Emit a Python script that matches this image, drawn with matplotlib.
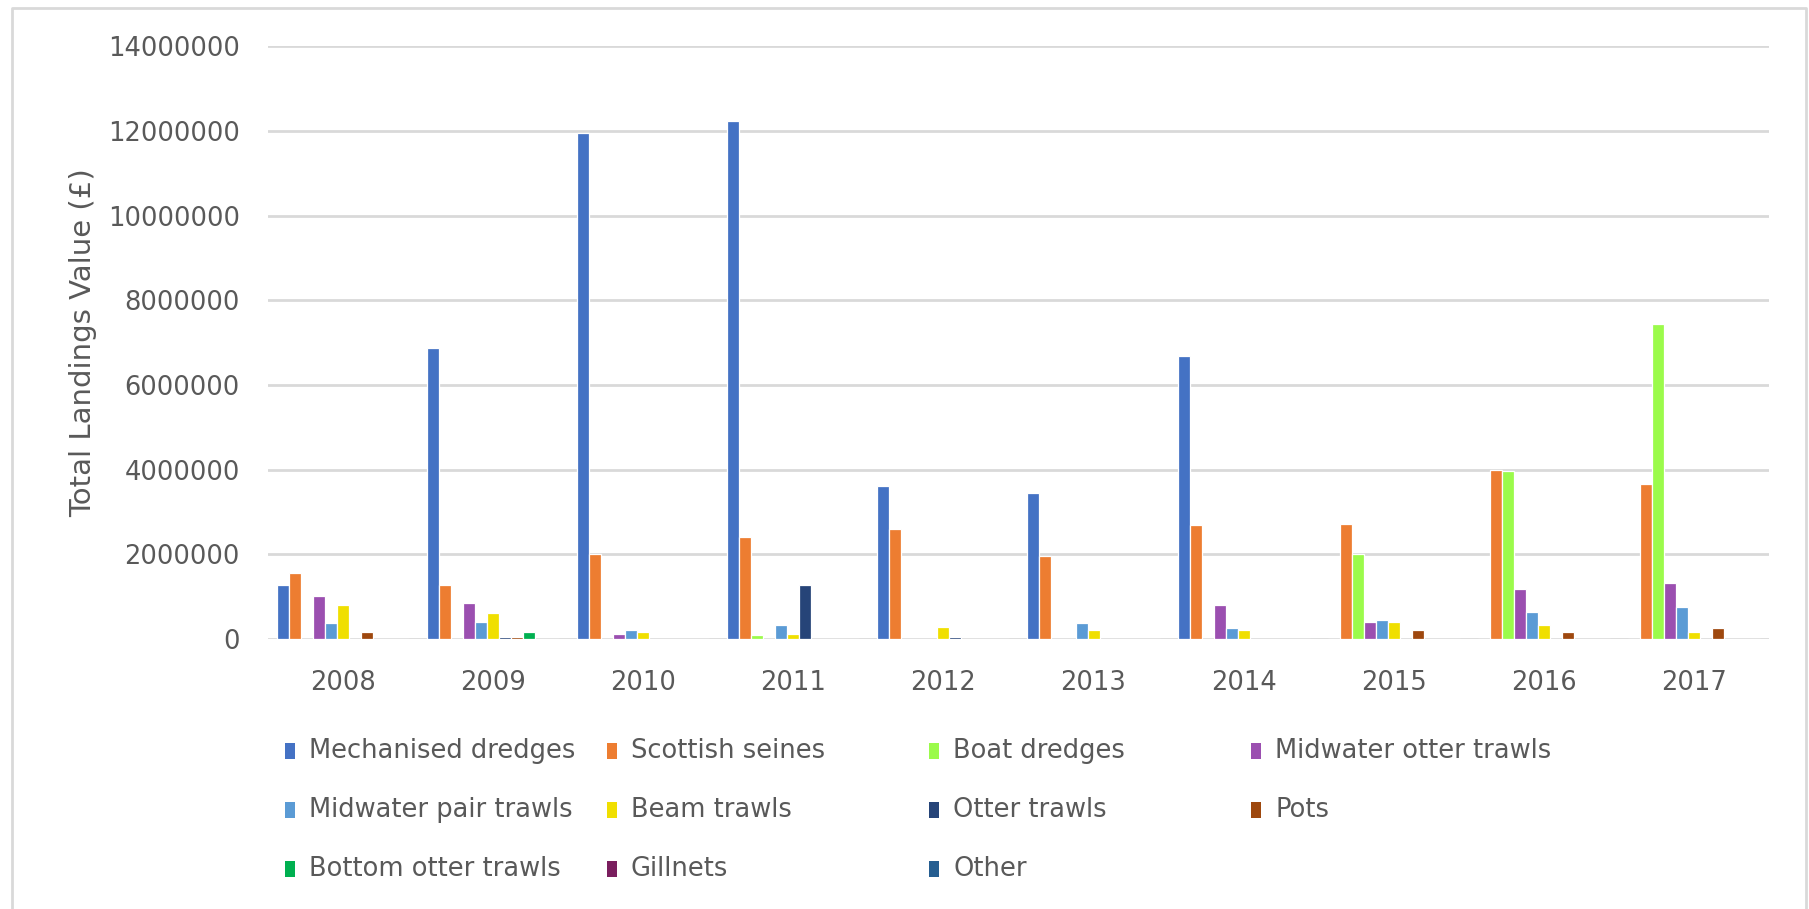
#!/usr/bin/env python3
"""
Total landings value by gear type, 2008-2017 (clustered column chart).
"""

import numpy as np
import matplotlib
matplotlib.use("Agg")
import matplotlib.pyplot as plt
from matplotlib.lines import Line2D

years = ['2008', '2009', '2010', '2011', '2012', '2013', '2014', '2015', '2016', '2017']

gear_types = [
    'Mechanised dredges', 'Scottish seines', 'Boat dredges', 'Midwater otter trawls',
    'Midwater pair trawls', 'Beam trawls', 'Otter trawls', 'Pots',
    'Bottom otter trawls', 'Gillnets', 'Other',
]

# Landings value (£) per gear type, one entry per year
mechanised_dredges = [1280000, 6880000, 11950000, 12230000, 3610000, 3450000, 6690000, 0, 0, 0]
scottish_seines = [1570000, 1280000, 2010000, 2410000, 2610000, 1970000, 2690000, 2720000, 4000000, 3660000]
boat_dredges = [0, 0, 0, 90000, 0, 0, 0, 2010000, 3970000, 7450000]
midwater_otter_trawls = [1010000, 850000, 130000, 0, 0, 0, 800000, 400000, 1170000, 1320000]
midwater_pair_trawls = [370000, 410000, 210000, 330000, 0, 370000, 250000, 450000, 650000, 760000]
beam_trawls = [800000, 610000, 170000, 130000, 280000, 210000, 210000, 400000, 330000, 170000]
otter_trawls = [0, 55000, 0, 1280000, 50000, 0, 0, 0, 0, 0]
pots = [170000, 55000, 0, 0, 0, 0, 0, 210000, 170000, 250000]
bottom_otter_trawls = [0, 170000, 0, 0, 0, 0, 0, 0, 0, 0]
gillnets = [0, 0, 0, 0, 0, 0, 0, 0, 0, 0]
other = [0, 0, 0, 0, 0, 0, 0, 0, 0, 0]

series = [mechanised_dredges, scottish_seines, boat_dredges, midwater_otter_trawls,
          midwater_pair_trawls, beam_trawls, otter_trawls, pots,
          bottom_otter_trawls, gillnets, other]

colors = ['#4472C4', '#ED7D31', '#9BFB4B', '#9B4FB0',
          '#5B9BD5', '#F0DF00', '#264478', '#9E480E',
          '#00B050', '#7A1E5E', '#255E91']

TEXT = '#595959'
GRID = '#D9D9D9'

fig = plt.figure(figsize=(18.09, 9.09), dpi=100)
ax = fig.add_axes([0.148, 0.297, 0.830, 0.652])

x = np.arange(len(years))
n = len(series)
w = 0.88 / n
for j, (vals, col) in enumerate(zip(series, colors)):
    ax.bar(x + (j - (n - 1) / 2) * w, vals, width=w, color=col,
           edgecolor='white', linewidth=0.9, label=gear_types[j], zorder=3)

ax.set_xlim(-0.5, len(years) - 0.5)
ax.set_ylim(0, 14000000)
ax.set_yticks(np.arange(0, 14000001, 2000000))
ax.set_yticklabels([str(v) for v in range(0, 14000001, 2000000)])
ax.set_xticks(x)
ax.set_xticklabels(years)
ax.grid(axis='y', color=GRID, linewidth=2, zorder=0)
ax.tick_params(axis='both', length=0, colors=TEXT, labelsize=18.5)
ax.tick_params(axis='y', pad=20)
ax.tick_params(axis='x', pad=22)
for s in ax.spines.values():
    s.set_visible(False)
ax.set_ylabel('Total Landings Value (£)', fontsize=21, color=TEXT, labelpad=8)

# legend laid out in four evenly spaced columns, filled row by row
col_x = [285, 607, 929, 1251]
row_y = [751, 810, 869]
W, H = 1809, 909
for k, label in enumerate(gear_types):
    r, c = divmod(k, 4)
    fig.patches.append(plt.Rectangle((col_x[c] / W, (H - row_y[r] - 8) / H),
                                     10 / W, 16 / H, transform=fig.transFigure,
                                     facecolor=colors[k], edgecolor='none'))
    fig.text((col_x[c] + 24) / W, (H - row_y[r]) / H, label, fontsize=18.5,
             color=TEXT, va='center', ha='left')

# chart border (left, top, right)
border = Line2D([12 / W, 12 / W, 1806 / W, 1806 / W], [0, 1 - 8 / H, 1 - 8 / H, 0],
                transform=fig.transFigure, color='#D9D9D9', linewidth=2)
fig.lines.append(border)

fig.savefig('out.png', dpi=100)
plt.close(fig)
